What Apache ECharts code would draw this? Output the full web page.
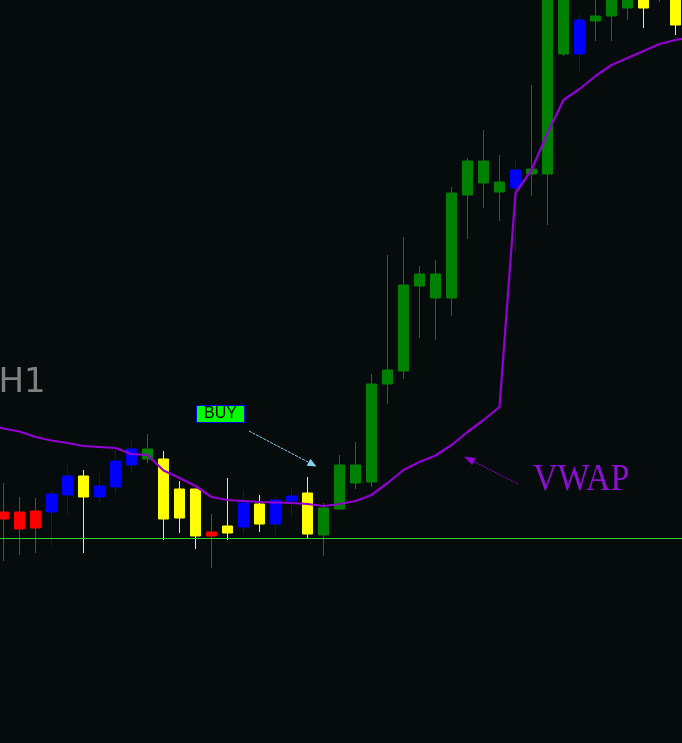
<!DOCTYPE html>
<html><head><meta charset="utf-8">
<script src="https://cdn.jsdelivr.net/npm/echarts@6/dist/echarts.min.js"></script>
<style>html,body{margin:0;padding:0;background:#060c0c;overflow:hidden}#c{width:682px;height:743px;}</style>
</head><body><div id="c"></div>
<script>
// Bar index labels (H1 bars). First and last are just off-screen.
const bars = Array.from({length: 45}, (_, i) => 'bar ' + i);
// Candle colour class per bar
const candleColor = ['-', 'red','red','red','blue','blue','yellow','blue','blue','blue','green',
  'yellow','yellow','yellow','red','yellow','blue','yellow','blue','blue','yellow',
  'green','green','green','green','green','green','green','green','green','green',
  'green','green','blue','green','green','green','blue','green','green','green',
  'yellow','green','yellow','-'];
const openP  = ['-',231,231,232,231,248,267,246,256,278,284,284,254,254,211,217,216,239,219,242,250,208,234,260,261,359,372,457,445,445,548,560,551,555,569,569,689,689,722,727,735,753,748,751,'-'];
const closeP = ['-',224,214,215,249,267,246,257,282,294,294,224,225,207,207,210,240,219,243,247,209,235,278,278,359,373,458,469,469,550,582,582,561,573,574,753,758,723,727,755,758,735,768,718,'-'];
const lowP   = ['-',182,188,190,197,228,190,241,249,270,280,203,210,194,175,203,209,211,208,227,204,187,233,254,256,339,364,405,403,427,504,535,522,491,547,518,687,671,702,702,723,715,741,708,'-'];
const highP  = ['-',260,246,245,252,278,273,270,293,302,309,292,262,254,229,265,253,248,247,256,266,240,288,301,369,488,506,477,483,556,585,613,588,584,658,763,768,729,751,763,768,761,778,758,'-'];
// VWAP per bar
const vwap = [319,314.5,311.5,306,302.5,300,297,296,295,289,288,272.5,265,257,246,243,242,241,240.5,240,239,237,239,242,248,260,273,281,287.5,298,311,323,336,550,573,610,643,654,667,678,685,692,699,703,706];
// Horizontal level
const levelLine = 205;

const palette = {red:'#ff0000', blue:'#0000ff', yellow:'#ffff00', green:'#008000'};

const candleData = bars.map((b, i) => {
  if (openP[i] === '-') return '-';
  const c = palette[candleColor[i]];
  return {value: [openP[i], closeP[i], lowP[i], highP[i]],
          itemStyle: {color: c, color0: c, borderColor: c, borderColor0: c, borderWidth: 1}};
});

function arrow(x1, y1, x2, y2, color, len, half, dash) {
  const dx = x2 - x1, dy = y2 - y1, L = Math.hypot(dx, dy), ux = dx / L, uy = dy / L;
  const bx = x2 - ux * len, by = y2 - uy * len;
  return [
    {type: 'line', z: 100, shape: {x1: x1, y1: y1, x2: bx, y2: by}, style: {stroke: color, lineWidth: 1, lineDash: dash}},
    {type: 'polygon', z: 100, shape: {points: [[x2, y2], [bx - uy * half, by + ux * half], [bx + uy * half, by - ux * half]]}, style: {fill: color}}
  ];
}

const chart = echarts.init(document.getElementById('c'), null, {renderer: 'canvas'});
chart.setOption({
  backgroundColor: '#060c0c',
  animation: false,
  grid: {left: -20.5, width: 720, top: 0, height: 743, containLabel: false, outerBoundsMode: 'none'},
  xAxis: {type: 'category', data: bars, boundaryGap: true, show: false},
  yAxis: {type: 'value', min: 0, max: 743, show: false, splitLine: {show: false}},
  series: [
    {type: 'candlestick', data: candleData, barWidth: 10, z: 2},
    {type: 'line', data: vwap, symbol: 'none', smooth: false, z: 3,
     lineStyle: {color: '#9400d3', width: 2.2},
     markLine: {silent: true, symbol: 'none', label: {show: false}, z: 4,
       lineStyle: {color: '#32cd32', width: 1, type: 'solid'},
       data: [{yAxis: levelLine}]}}
  ],
  graphic: [
    {type: 'text', x: -1.5, y: 383, z: 100,
     style: {text: 'H1', font: '34px "DejaVu Sans"', fill: '#808080', textAlign: 'left', textVerticalAlign: 'middle'}},
    {type: 'rect', z: 100, shape: {x: 196.5, y: 405.5, width: 48, height: 17},
     style: {fill: '#00ff00', stroke: '#0000ff', lineWidth: 1}},
    {type: 'text', x: 220.5, y: 414, z: 101,
     style: {text: 'BUY', font: '16px "Liberation Sans"', fill: '#000000', textAlign: 'center', textVerticalAlign: 'middle'}},
    ...arrow(249, 431, 316.5, 466.5, '#87ceeb', 9, 4, [3, 1]),
    ...arrow(518, 484, 464, 456.5, '#9400d3', 11, 4, [2, 1]),
    {type: 'text', x: 533, y: 480, scaleX: 0.92, z: 100,
     style: {text: 'VWAP', font: '37px "Liberation Serif"', fill: '#8c10d0', textAlign: 'left', textVerticalAlign: 'middle'}}
  ]
});
</script></body></html>
